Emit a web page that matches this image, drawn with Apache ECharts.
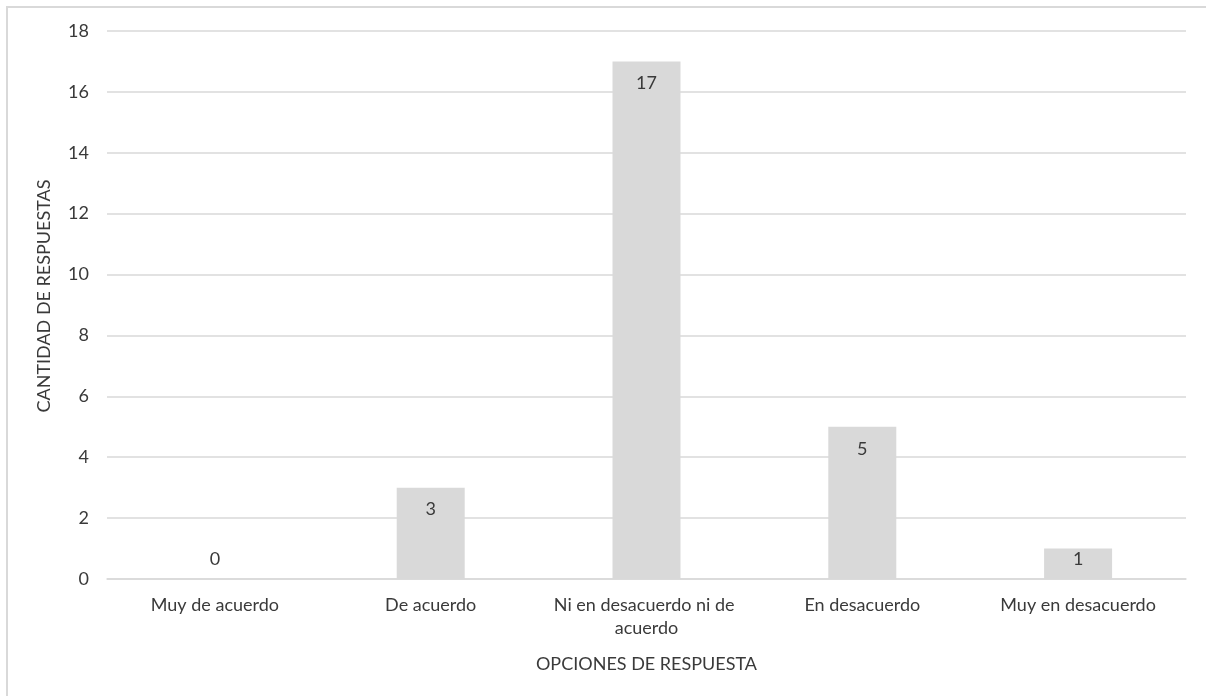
<!DOCTYPE html>
<html>
<head>
<meta charset="utf-8">
<script src="https://cdn.jsdelivr.net/npm/echarts@6/dist/echarts.min.js"></script>
<style>
  html, body { margin: 0; padding: 0; background: #fff; }
  #chart { width: 1206px; height: 696px; }
</style>
</head>
<body>
<div id="chart"></div>
<script>
// Survey answer counts per response option
const categories = ['Muy de acuerdo', 'De acuerdo', 'Ni en desacuerdo ni de acuerdo', 'En desacuerdo', 'Muy en desacuerdo'];
const counts = [0, 3, 17, 5, 1];
const yTicks = [0, 2, 4, 6, 8, 10, 12, 14, 16, 18];

const FONT = 'Lato, "Open Sans", sans-serif';
const TEXT = '#3a3a3a';
const GRID = '#d9d9d9';

// Labels sit inside the top of the bar; bars too short for that keep the label just above the axis
const barData = counts.map(v => ({
  value: v,
  label: v < 2 ? { position: 'insideBottom', distance: 11 } : { position: 'insideTop', distance: 13 }
}));

const chart = echarts.init(document.getElementById('chart'));
chart.setOption({
  animation: false,
  backgroundColor: '#fff',
  graphic: [{
    type: 'rect',
    shape: { x: 7, y: 7, width: 1300, height: 800 },
    style: { fill: 'none', stroke: GRID, lineWidth: 2 },
    silent: true
  }],
  grid: { left: 107, right: 20, top: 31, bottom: 117, containLabel: false },
  xAxis: {
    type: 'category',
    data: categories,
    name: 'OPCIONES DE RESPUESTA',
    nameLocation: 'middle',
    nameGap: 76,
    nameTextStyle: { fontFamily: FONT, fontSize: 18, color: TEXT },
    axisLine: { show: true, lineStyle: { color: GRID, width: 1.5 } },
    axisTick: { show: false },
    axisLabel: {
      fontFamily: FONT, fontSize: 18, color: TEXT,
      margin: 15, lineHeight: 23,
      width: 205, overflow: 'break', interval: 0
    }
  },
  yAxis: {
    type: 'value',
    min: yTicks[0],
    max: yTicks[yTicks.length - 1],
    interval: yTicks[1] - yTicks[0],
    name: 'CANTIDAD DE RESPUESTAS',
    nameLocation: 'middle',
    nameGap: 54,
    nameRotate: 90,
    nameTextStyle: { fontFamily: FONT, fontSize: 18, color: TEXT, padding: [0, 0, 0, 18] },
    axisLine: { show: false },
    axisTick: { show: false },
    axisLabel: { fontFamily: FONT, fontSize: 18, color: TEXT, margin: 18 },
    splitLine: { show: true, lineStyle: { color: GRID, width: 1.5 } }
  },
  series: [{
    type: 'bar',
    data: barData,
    barWidth: 68,
    itemStyle: { color: '#d9d9d9' },
    label: {
      show: true,
      fontFamily: FONT, fontSize: 18, color: TEXT
    }
  }]
});
</script>
</body>
</html>
